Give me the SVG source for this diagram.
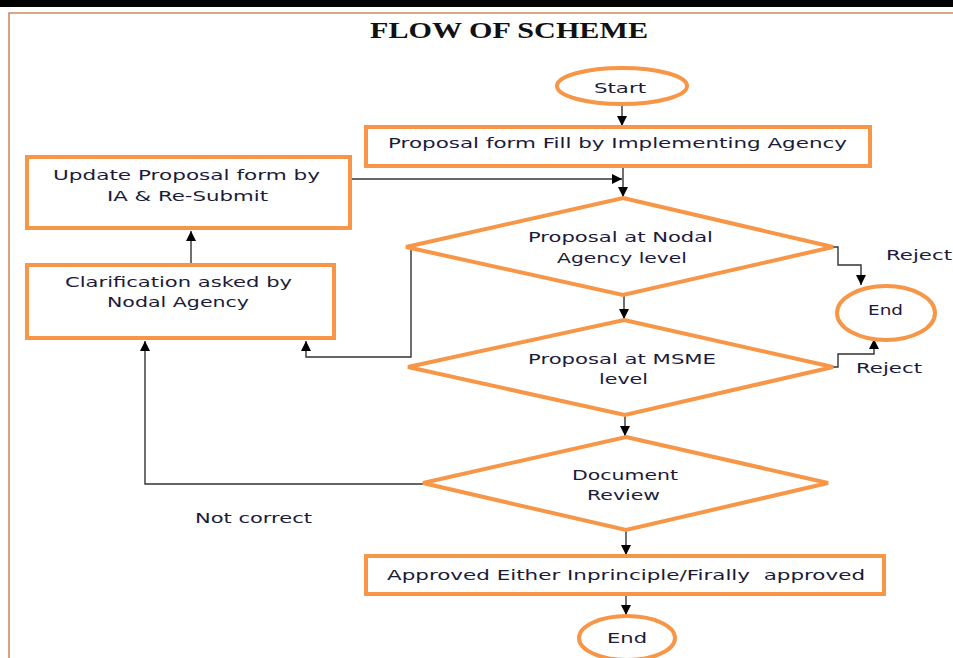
<svg xmlns="http://www.w3.org/2000/svg" width="953" height="658" viewBox="0 0 953 658">
<style>
.shape{fill:#fff;stroke:#F79646;stroke-width:4}
.t{font-family:"DejaVu Sans",Verdana,sans-serif;font-size:14.5px;fill:#1b1b3a}
.c{fill:none;stroke:#333;stroke-width:1.4}
.title{font-family:"Liberation Serif","Times New Roman",serif;font-weight:bold;font-size:23px;fill:#111}
</style>
<defs>
<marker id="ah" viewBox="0 0 10 10" refX="10" refY="5" markerWidth="10" markerHeight="10" markerUnits="userSpaceOnUse" orient="auto">
<path d="M0,0 L10,5 L0,10 z" fill="#000"/>
</marker>
</defs>
<rect x="0" y="0" width="953" height="658" fill="#fff"/>
<rect x="0" y="0" width="953" height="7" fill="#000"/>
<path d="M9,658 V13 H953" fill="none" stroke="#D08A62" stroke-width="1.6"/>
<text class="title" x="370" y="38" textLength="278" lengthAdjust="spacingAndGlyphs">FLOW OF SCHEME</text>

<g id="connectors">
<path class="c" d="M622,104 V126" marker-end="url(#ah)"/>
<path class="c" d="M623,166 V197" marker-end="url(#ah)"/>
<path class="c" d="M352,179 H622" marker-end="url(#ah)"/>
<path class="c" d="M191,264 V231" marker-end="url(#ah)"/>
<path class="c" d="M411,247 V357 H306 V341" marker-end="url(#ah)"/>
<path class="c" d="M833,247 H838 V265 H861 V285" marker-end="url(#ah)"/>
<path class="c" d="M624,295 V319" marker-end="url(#ah)"/>
<path class="c" d="M833,367 H838 V354 H874 V339" marker-end="url(#ah)"/>
<path class="c" d="M625,415 V436" marker-end="url(#ah)"/>
<path class="c" d="M423,484 H145 V341" marker-end="url(#ah)"/>
<path class="c" d="M626,530 V555" marker-end="url(#ah)"/>
<path class="c" d="M626,594 V615" marker-end="url(#ah)"/>
</g>

<g id="start">
<ellipse class="shape" cx="622" cy="86" rx="65" ry="18"/>
<text class="t" x="594" y="93" textLength="52" lengthAdjust="spacingAndGlyphs">Start</text>
</g>
<g id="proposal-form">
<rect class="shape" x="366" y="127" width="504" height="39"/>
<text class="t" x="388" y="148" textLength="459" lengthAdjust="spacingAndGlyphs">Proposal form Fill by Implementing Agency</text>
</g>
<g id="update-proposal">
<rect class="shape" x="27" y="157" width="323" height="71"/>
<text class="t" x="53" y="180" textLength="267" lengthAdjust="spacingAndGlyphs">Update Proposal form by</text>
<text class="t" x="107" y="201" textLength="161" lengthAdjust="spacingAndGlyphs">IA &amp; Re-Submit</text>
</g>
<g id="clarification">
<rect class="shape" x="27" y="265" width="307" height="73"/>
<text class="t" x="65" y="287" textLength="227" lengthAdjust="spacingAndGlyphs">Clarification asked by</text>
<text class="t" x="107" y="307" textLength="142" lengthAdjust="spacingAndGlyphs">Nodal Agency</text>
</g>
<g id="nodal-level">
<polygon class="shape" points="623,198 833,247 623,295 406,247"/>
<text class="t" x="528" y="242" textLength="185" lengthAdjust="spacingAndGlyphs">Proposal at Nodal</text>
<text class="t" x="557" y="263" textLength="130" lengthAdjust="spacingAndGlyphs">Agency level</text>
</g>
<g id="end-reject">
<ellipse class="shape" cx="886" cy="313" rx="49" ry="27"/>
<text class="t" x="868" y="315" textLength="35" lengthAdjust="spacingAndGlyphs">End</text>
</g>
<g id="msme-level">
<polygon class="shape" points="624,320 833,367 625,415 408,367"/>
<text class="t" x="528" y="364" textLength="188" lengthAdjust="spacingAndGlyphs">Proposal at MSME</text>
<text class="t" x="599" y="384" textLength="49" lengthAdjust="spacingAndGlyphs">level</text>
</g>
<g id="document-review">
<polygon class="shape" points="626,437 828,483 626,530 423,483"/>
<text class="t" x="572" y="480" textLength="106" lengthAdjust="spacingAndGlyphs">Document</text>
<text class="t" x="587" y="500" textLength="73" lengthAdjust="spacingAndGlyphs">Review</text>
</g>
<g id="approved">
<rect class="shape" x="366" y="556" width="518" height="38"/>
<text class="t" x="387" y="580" textLength="478" lengthAdjust="spacingAndGlyphs" style="white-space:pre">Approved Either Inprinciple/Firally  approved</text>
</g>
<g id="end-final">
<ellipse class="shape" cx="627" cy="638" rx="48" ry="22"/>
<text class="t" x="607" y="643" textLength="40" lengthAdjust="spacingAndGlyphs">End</text>
</g>
<g id="labels">
<text class="t" x="886" y="260" textLength="66" lengthAdjust="spacingAndGlyphs">Reject</text>
<text class="t" x="856" y="373" textLength="66" lengthAdjust="spacingAndGlyphs">Reject</text>
<text class="t" x="195" y="523" textLength="117" lengthAdjust="spacingAndGlyphs">Not correct</text>
</g>
</svg>
